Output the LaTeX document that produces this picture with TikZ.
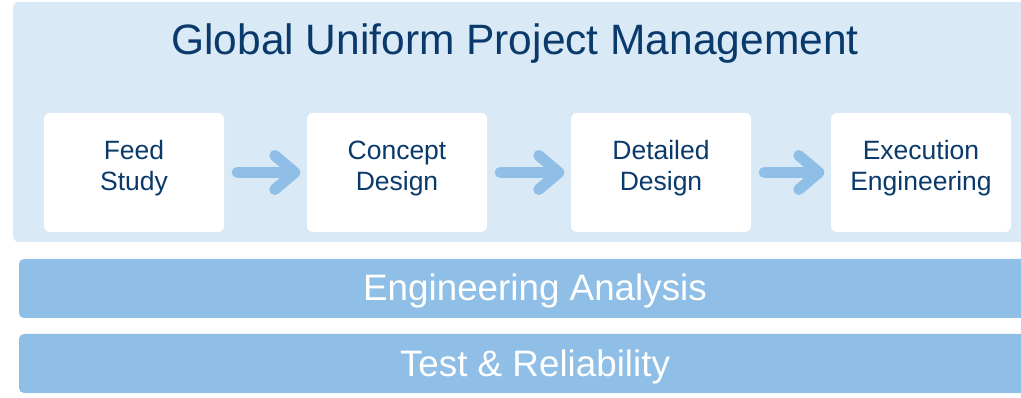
\documentclass[tikz,border=0pt]{standalone}
\usepackage{fontspec}
\setmainfont{Liberation Sans}
\definecolor{panel}{HTML}{DAE9F6}
\definecolor{bar}{HTML}{8FBEE6}
\definecolor{navy}{HTML}{0A3A6B}
\begin{document}
\begin{tikzpicture}[x=1pt,y=-1pt,
  stagebox/.style={fill=white,rounded corners=6pt,minimum width=180pt,minimum height=119pt,inner sep=0pt},
  stagetext/.style={text=navy,align=center,inner sep=0pt,anchor=base,font=\fontsize{26.5}{31}\selectfont},
  flowarrow/.style={draw=bar,line width=11pt,line cap=round,line join=round},
  barbox/.style={fill=bar,rounded corners=5pt,inner sep=0pt,minimum height=59pt,minimum width=1032pt},
  bartext/.style={text=white,inner sep=0pt,anchor=base,font=\fontsize{36.8}{40}\selectfont}]
\useasboundingbox (0,0) rectangle (1021,398);
\clip (0,0) rectangle (1021,398);
\fill[panel,rounded corners=6pt] (13,2) rectangle (1045,242);
\node[text=navy,font=\fontsize{42.5}{48}\selectfont,anchor=base,inner sep=0pt] (title) at (515,55) {Global Uniform Project Management};
\node[stagebox] (s1) at (134,172.5) {};
\node[stagebox] (s2) at (397,172.5) {};
\node[stagebox] (s3) at (661,172.5) {};
\node[stagebox] (s4) at (921,172.5) {};
\node[stagetext] (t1) at (134,191) {Feed\\Study};
\node[stagetext] (t2) at (397,191) {Concept\\Design};
\node[stagetext] (t3) at (661,191) {Detailed\\Design};
\node[stagetext] (t4) at (921,191) {Execution\\Engineering};
\foreach \a/\b in {s1/s2,s2/s3,s3/s4}{
  \coordinate (st) at ([xshift=13pt]\a.east);
  \coordinate (tp) at ([xshift=-12pt]\b.west);
  \draw[flowarrow] (st) -- ([xshift=-2pt]tp);
  \draw[flowarrow] ([xshift=-20pt,yshift=-17pt]tp) -- (tp) -- ([xshift=-20pt,yshift=17pt]tp);
}
\node[barbox] (ea) at (535,288.5) {};
\node[barbox] (tr) at (535,363.5) {};
\node[bartext] (eat) at (535,301) {Engineering Analysis};
\node[bartext] (trt) at (535,377) {Test \& Reliability};
\end{tikzpicture}
\end{document}
